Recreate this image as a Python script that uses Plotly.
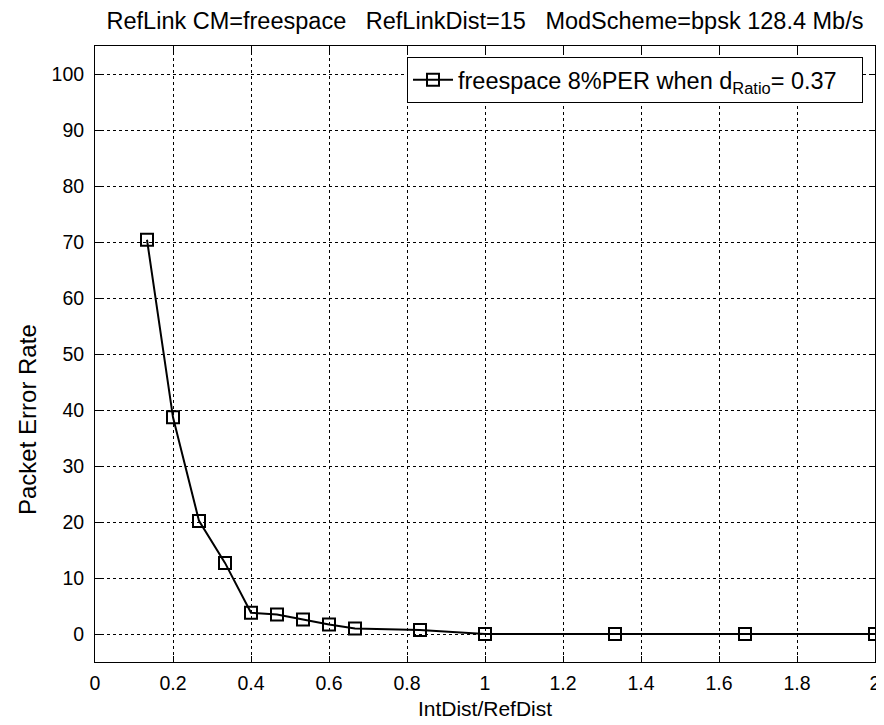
import plotly.graph_objects as go

x_ratio = [2/15, 3/15, 4/15, 5/15, 6/15, 7/15, 8/15, 9/15, 10/15, 12.5/15, 15/15, 20/15, 25/15, 30/15]
per_values = [70.4, 38.7, 20.2, 12.7, 3.8, 3.5, 2.6, 1.7, 1.0, 0.7, 0.0, 0.0, 0.0, 0.0]
x_ticks = [0, 0.2, 0.4, 0.6, 0.8, 1.0, 1.2, 1.4, 1.6, 1.8, 2.0]
x_tick_labels = ["0", "0.2", "0.4", "0.6", "0.8", "1", "1.2", "1.4", "1.6", "1.8", "2"]
y_ticks = [0, 10, 20, 30, 40, 50, 60, 70, 80, 90, 100]
title_text = "RefLink CM=freespace\u00a0\u00a0\u00a0RefLinkDist=15\u00a0\u00a0\u00a0ModScheme=bpsk 128.4 Mb/s"
legend_name = "freespace 8%PER when d<sub>Ratio</sub>= 0.37\u00a0\u00a0\u00a0"
y_label = "Packet Error Rate"
x_label = "IntDist/RefDist"

FONT = "Liberation Sans, Arial, sans-serif"

fig = go.Figure()
fig.add_trace(go.Scatter(
    x=x_ratio, y=per_values, mode="lines+markers", name=legend_name,
    line=dict(color="black", width=2),
    marker=dict(symbol="square-open", size=12, color="black", line=dict(width=2, color="black")),
))

axis_common = dict(
    showline=True, linecolor="black", linewidth=1, mirror="ticks",
    ticks="inside", ticklen=6, tickcolor="black", tickwidth=1,
    showgrid=True, gridcolor="black", gridwidth=1, griddash="3px,3px",
    zeroline=False, automargin=False,
    tickfont=dict(family=FONT, size=19.5, color="black"),
)

fig.update_xaxes(range=[0, 2], tickvals=x_ticks, ticktext=x_tick_labels, ticklabelstandoff=4,
                 title=dict(text=x_label, font=dict(family=FONT, size=21, color="black"), standoff=7),
                 **axis_common)
fig.update_yaxes(range=[-5, 105], tickvals=y_ticks, ticklabelstandoff=6, **axis_common)

fig.add_annotation(text=y_label, textangle=-90, xref="paper", yref="paper",
                   x=(27 - 95) / 780, y=(662 - 420) / 616, xanchor="center", yanchor="middle",
                   showarrow=False, font=dict(family=FONT, size=24, color="black"))

fig.update_layout(
    width=876, height=717,
    margin=dict(l=87, r=9, t=38, b=63),
    paper_bgcolor="white", plot_bgcolor="white",
    title=dict(text=title_text, x=0.5, xanchor="center", xref="paper", yref="container",
               y=1 - 13 / 717, yanchor="middle",
               font=dict(family=FONT, size=23.5, color="black")),
    showlegend=True,
    legend=dict(x=(863 - 95) / 780, y=(662 - 57) / 616, xanchor="right", yanchor="top",
                bgcolor="white", bordercolor="black", borderwidth=1, itemwidth=40,
                font=dict(family=FONT, size=23.5, color="black")),
    font=dict(family=FONT, color="black"),
)

fig.write_html("out.html")
